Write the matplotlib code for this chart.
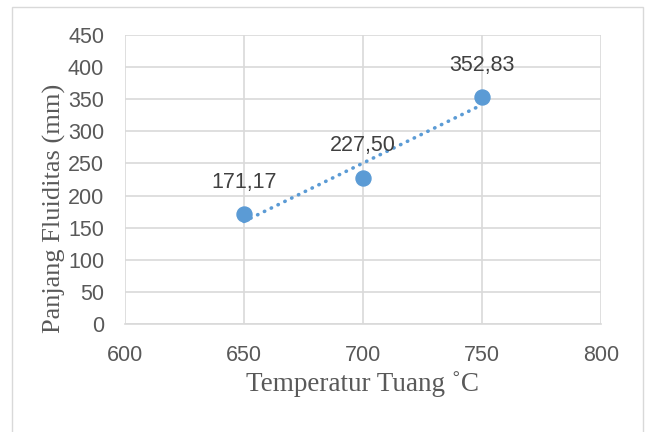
import numpy as np
import matplotlib
matplotlib.use("Agg")
import matplotlib.pyplot as plt
from matplotlib.patches import Rectangle

# data
temps = [650, 700, 750]
lengths = [171.17, 227.50, 352.83]
point_labels = ["171,17", "227,50", "352,83"]
x_ticks = [600, 650, 700, 750, 800]
y_ticks = [0, 50, 100, 150, 200, 250, 300, 350, 400, 450]

BLUE = "#5B9BD5"
GRID = "#d9d9d9"
TEXT = "#595959"

fig = plt.figure(figsize=(6.51, 4.32), dpi=100)
ax = fig.add_axes([0.192, 0.25, 0.731, 0.669])

# outer chart border (runs off the bottom of the image)
fig.patches.append(Rectangle((12 / 651, -0.1), (643 - 12) / 651, 1.1 - 7 / 432,
                             transform=fig.transFigure, fill=False,
                             edgecolor=GRID, lw=1.0, clip_on=False))

# linear trendline over the data range
coef = np.polyfit(temps, lengths, 1)
tx = np.array([temps[0], temps[-1]])
ax.plot(tx, np.polyval(coef, tx), color=BLUE, lw=2.6,
        linestyle=(0, (0.1, 2.0)), dash_capstyle="round", zorder=3)

ax.plot(temps, lengths, "o", color=BLUE, markersize=10.8, zorder=4)

for x, y, lab in zip(temps, lengths, point_labels):
    ax.annotate(lab, (x, y), xytext=(0, 23), textcoords="offset points",
                ha="center", va="center", fontsize=15.5, color="#404040",
                family="Liberation Sans")

ax.set_xlim(600, 800)
ax.set_ylim(0, 450)
ax.set_xticks(x_ticks)
ax.set_yticks(y_ticks)
ax.grid(True, color=GRID, lw=1.2)
ax.set_axisbelow(True)
for side in ["top", "right", "left"]:
    ax.spines[side].set_visible(False)
ax.spines["bottom"].set_color(GRID)
ax.spines["bottom"].set_linewidth(1.2)
ax.tick_params(length=0, labelsize=15.5, labelcolor=TEXT, pad=15)
for t in ax.get_xticklabels() + ax.get_yticklabels():
    t.set_family("Liberation Sans")

ax.set_xlabel("Temperatur Tuang ˚C", family="Liberation Serif", fontsize=19.5,
              color=TEXT, labelpad=4)
ax.set_ylabel("Panjang Fluiditas (mm)", family="Liberation Serif", fontsize=19,
              color=TEXT)
ax.yaxis.set_label_coords(-0.124, 0.4)

fig.savefig("out.png", dpi=100)
